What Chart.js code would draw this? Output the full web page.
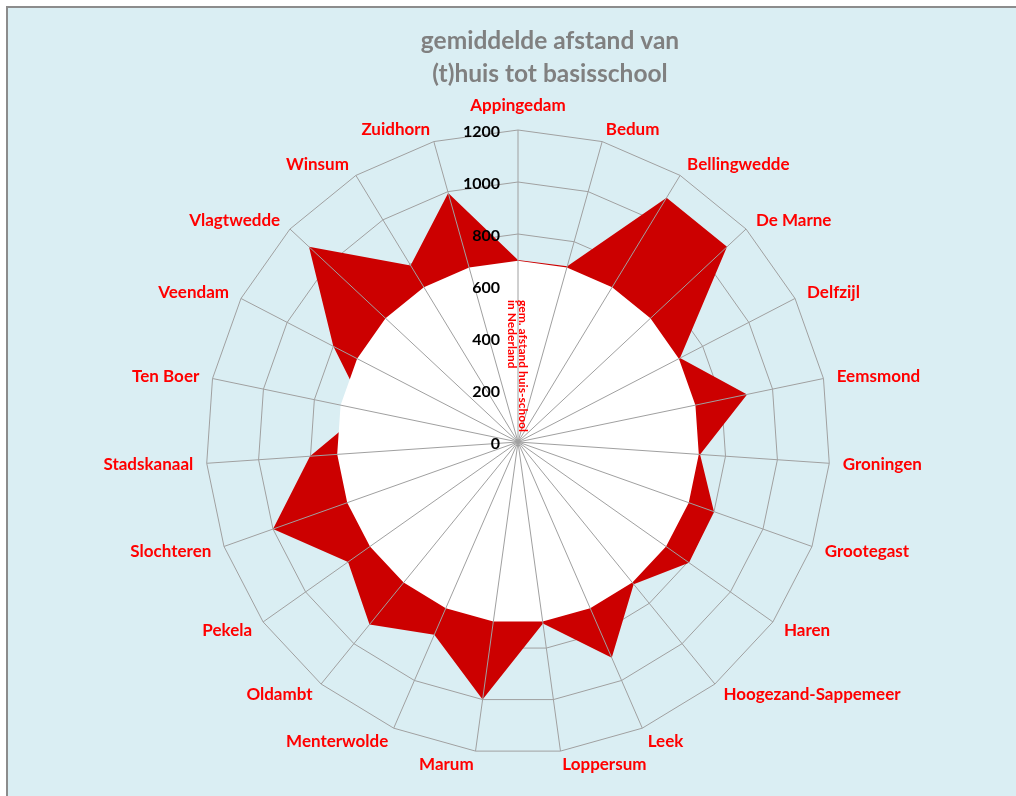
<!DOCTYPE html>
<html><head><meta charset="utf-8">
<script src="https://cdn.jsdelivr.net/npm/chart.js@4.4.1/dist/chart.umd.min.js"></script>
<style>
html,body{margin:0;padding:0;overflow:hidden;background:#fff;width:1016px;height:796px;}
#box{position:absolute;left:6px;top:6px;width:1100px;height:900px;background:#DAEEF3;border-left:2px solid #8c8c8c;border-top:2px solid #8c8c8c;}
#c{position:absolute;left:0;top:0;}
</style></head><body>
<div id="box"></div>
<canvas id="c" width="1016" height="796"></canvas>
<script>
const categories = ['Appingedam','Bedum','Bellingwedde','De Marne','Delfzijl','Eemsmond','Groningen','Grootegast','Haren','Hoogezand-Sappemeer','Leek','Loppersum','Marum','Menterwolde','Oldambt','Pekela','Slochteren','Stadskanaal','Ten Boer','Veendam','Vlagtwedde','Winsum','Zuidhorn'];
const municipalityValues = [700, 702, 1100, 1100, 702, 900, 702, 800, 805, 705, 905, 705, 1000, 808, 905, 800, 1000, 802, 600, 800, 1100, 795, 995];
const nationalAverage = [697, 697, 697, 697, 697, 697, 697, 697, 697, 697, 697, 697, 697, 697, 697, 697, 697, 697, 697, 697, 697, 697, 697];
const tickValues = [0, 200, 400, 600, 800, 1000, 1200];
const titleLines = ['gemiddelde afstand van', '(t)huis tot basisschool'];
const averageLabelLines = ['gem. afstand huis-school', 'in Nederland'];

const FONT = 'Lato, "Open Sans", sans-serif';

const overlay = {
  id: 'overlay',
  afterDatasetsDraw(chart) {
    const s = chart.scales.r;
    const ctx = chart.ctx;
    ctx.save();
    // spokes on top of fills
    ctx.strokeStyle = '#a0a0a0';
    ctx.lineWidth = 1;
    for (let i = 0; i < categories.length; i++) {
      const p = s.getPointPosition(i, s.drawingArea);
      ctx.beginPath();
      ctx.moveTo(s.xCenter, s.yCenter);
      ctx.lineTo(p.x, p.y);
      ctx.stroke();
    }
    // tick labels
    ctx.fillStyle = '#000';
    ctx.font = 'bold 16px ' + FONT;
    ctx.textAlign = 'right';
    ctx.textBaseline = 'alphabetic';
    tickValues.forEach(v => {
      const y = s.yCenter - s.getDistanceFromCenterForValue(v);
      ctx.fillText(String(v), s.xCenter - 18, y + 6.5);
    });
    // category labels
    ctx.fillStyle = '#FF0000';
    ctx.font = 'bold 17px ' + FONT;
    for (let i = 0; i < categories.length; i++) {
      const a = s.getIndexAngle(i);
      const sn = Math.sin(a);
      const p = s.getPointPosition(i, s.drawingArea + 13.5);
      if (Math.abs(sn) < 0.05) {
        ctx.textAlign = 'center';
        ctx.fillText(categories[i], p.x, p.y - 6);
      } else {
        ctx.textAlign = sn > 0 ? 'left' : 'right';
        ctx.fillText(categories[i], p.x, p.y + 6);
      }
    }
    // vertical label of national average
    ctx.save();
    ctx.translate(s.xCenter + 1, 300);
    ctx.rotate(Math.PI / 2);
    ctx.font = 'bold 12px ' + FONT;
    ctx.textAlign = 'left';
    ctx.fillStyle = '#FF0000';
    ctx.fillText(averageLabelLines[0], 0, 0);
    ctx.fillText(averageLabelLines[1], 0, 11.5);
    ctx.restore();
    // title
    ctx.fillStyle = '#808080';
    ctx.font = 'bold 24.5px ' + FONT;
    ctx.textAlign = 'center';
    ctx.fillText(titleLines[0], 550, 49);
    ctx.fillText(titleLines[1], 550, 82);
    ctx.restore();
  }
};

function build() {
  new Chart(document.getElementById('c'), {
    type: 'radar',
    data: {
      labels: categories,
      datasets: [
        { label: averageLabelLines.join(' '), data: nationalAverage, backgroundColor: '#ffffff', borderColor: 'rgba(0,0,0,0)', borderWidth: 0, pointRadius: 0, fill: true, order: 0, tension: 0 },
        { label: 'gemeente', data: municipalityValues, backgroundColor: '#CC0000', borderColor: 'rgba(0,0,0,0)', borderWidth: 0, pointRadius: 0, fill: true, order: 1, tension: 0 }
      ]
    },
    options: {
      responsive: false,
      animation: false,
      devicePixelRatio: 1,
      layout: { padding: { left: 206, right: 186, top: 130, bottom: 42 } },
      plugins: { legend: { display: false }, tooltip: { enabled: false }, title: { display: false } },
      scales: {
        r: {
          min: 0, max: 1200,
          ticks: { display: false, stepSize: 200 },
          grid: { color: '#a0a0a0', lineWidth: 1 },
          angleLines: { display: false },
          pointLabels: { display: false }
        }
      }
    },
    plugins: [overlay]
  });
}
if (document.fonts && document.fonts.load) {
  Promise.all([document.fonts.load('bold 17px Lato'), document.fonts.load('bold 12px Lato')]).then(build, build);
} else { build(); }
</script>
</body></html>
